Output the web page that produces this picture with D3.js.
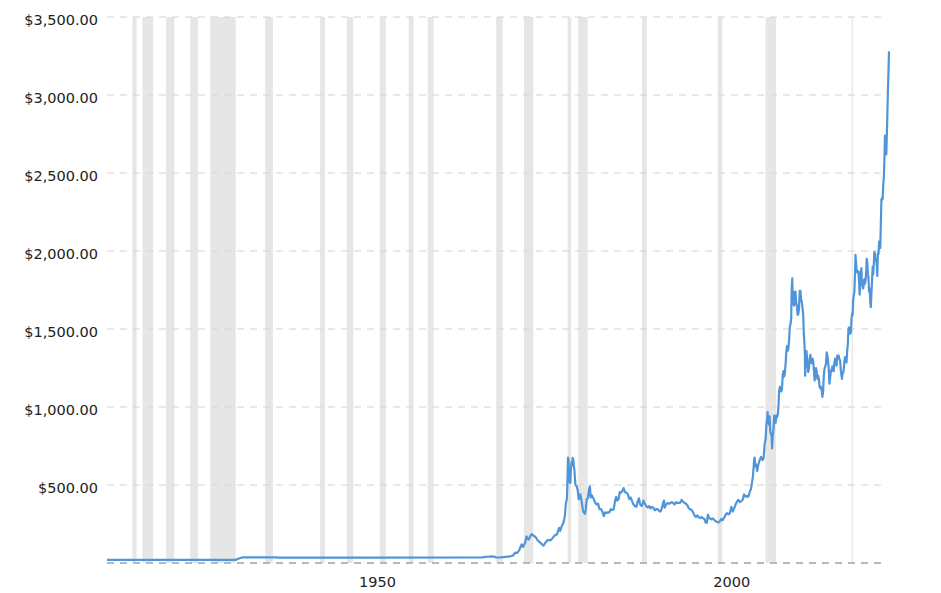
<!DOCTYPE html>
<html><head><meta charset="utf-8">
<script src="https://cdn.jsdelivr.net/npm/d3@7"></script>
<style>body{margin:0;background:#fff} svg{display:block} text{font-family:"DejaVu Sans",Verdana,sans-serif}</style>
</head><body><svg id="c" width="941" height="593"></svg>
<script>
// ---- data (decimal year, USD per ounce) ----
const goldEarly = [[1915.0,20.67],[1933.2,20.67],[1933.6,29],[1933.95,34],[1934.1,35.5],[1938.8,35.5],[1939.2,35],[1949.3,34.5],[1950.5,35],[1967.9,35.2]];
const gold1968_1979 = [[1968.3,39],[1968.8,40],[1969.2,43],[1969.6,41],[1969.9,35.2],[1970.5,35.5],[1971.0,38],[1971.5,40.5],[1971.9,43],[1972.3,48],[1972.6,66],[1972.9,64],[1973.2,85],[1973.5,120],[1973.7,103],[1974.0,130],[1974.2,170],[1974.5,150],[1974.9,185],[1975.2,175],[1975.5,165],[1975.8,143],[1976.1,132],[1976.6,111],[1976.9,133],[1977.2,148],[1977.6,145],[1977.9,161],[1978.2,178],[1978.5,184],[1978.8,225],[1978.95,205],[1979.2,240],[1979.4,257],[1979.6,296],[1979.75,380],[1979.9,415],[1979.97,510]];
const gold1980_1989 = [[1980.05,675],[1980.13,665],[1980.2,554],[1980.3,517],[1980.38,513],[1980.46,600],[1980.55,645],[1980.63,627],[1980.71,674],[1980.8,662],[1980.88,623],[1980.96,596],[1981.1,500],[1981.3,490],[1981.45,460],[1981.55,410],[1981.7,425],[1981.8,440],[1981.95,400],[1982.2,330],[1982.45,315],[1982.55,340],[1982.7,410],[1982.85,415],[1983.05,480],[1983.15,490],[1983.25,420],[1983.4,435],[1983.55,420],[1983.7,410],[1983.9,385],[1984.1,375],[1984.3,380],[1984.5,345],[1984.7,345],[1984.9,330],[1985.1,300],[1985.3,325],[1985.5,320],[1985.7,325],[1985.9,325],[1986.1,345],[1986.3,340],[1986.5,345],[1986.7,400],[1986.85,425],[1987.0,400],[1987.2,410],[1987.35,455],[1987.5,450],[1987.7,460],[1987.9,480],[1988.1,455],[1988.3,450],[1988.5,440],[1988.7,410],[1988.9,420],[1989.1,395],[1989.3,375],[1989.5,365],[1989.7,360],[1989.9,395]];
const gold1990_2004 = [[1990.05,415],[1990.25,375],[1990.45,365],[1990.6,380],[1990.7,400],[1990.9,380],[1991.1,365],[1991.3,357],[1991.5,365],[1991.7,350],[1991.9,360],[1992.1,355],[1992.3,338],[1992.5,345],[1992.7,345],[1992.9,335],[1993.1,330],[1993.3,350],[1993.5,390],[1993.6,400],[1993.7,355],[1993.9,375],[1994.1,385],[1994.3,380],[1994.5,385],[1994.7,390],[1994.9,385],[1995.1,375],[1995.3,390],[1995.5,385],[1995.7,385],[1995.9,387],[1996.1,405],[1996.3,392],[1996.5,385],[1996.7,380],[1996.9,370],[1997.1,350],[1997.3,345],[1997.5,340],[1997.7,325],[1997.9,305],[1998.1,295],[1998.3,305],[1998.5,292],[1998.7,288],[1998.9,295],[1999.1,287],[1999.3,282],[1999.5,258],[1999.65,258],[1999.8,310],[1999.95,290],[2000.1,285],[2000.3,280],[2000.5,285],[2000.7,275],[2000.9,268],[2001.1,263],[2001.3,260],[2001.5,268],[2001.7,283],[2001.9,275],[2002.1,292],[2002.3,310],[2002.5,320],[2002.7,312],[2002.9,320],[2003.1,360],[2003.3,330],[2003.5,350],[2003.7,375],[2003.9,395],[2004.1,405],[2004.3,390],[2004.5,395],[2004.7,405],[2004.9,440]];
const gold2005_2014 = [[2005.1,425],[2005.3,430],[2005.5,425],[2005.7,455],[2005.9,480],[2006.0,510],[2006.15,555],[2006.3,650],[2006.38,675],[2006.5,620],[2006.6,632],[2006.75,590],[2006.9,630],[2007.1,660],[2007.3,680],[2007.5,660],[2007.65,670],[2007.8,760],[2007.95,800],[2008.05,890],[2008.15,925],[2008.22,968],[2008.3,910],[2008.4,888],[2008.5,940],[2008.6,840],[2008.7,830],[2008.8,810],[2008.85,735],[2008.95,815],[2009.05,860],[2009.15,945],[2009.25,925],[2009.35,900],[2009.45,945],[2009.55,935],[2009.65,950],[2009.75,1000],[2009.85,1100],[2009.95,1130],[2010.05,1115],[2010.15,1100],[2010.25,1115],[2010.35,1200],[2010.45,1230],[2010.55,1195],[2010.65,1215],[2010.75,1270],[2010.85,1345],[2010.95,1390],[2011.05,1360],[2011.15,1375],[2011.25,1425],[2011.35,1510],[2011.45,1530],[2011.55,1570],[2011.62,1760],[2011.7,1825],[2011.78,1660],[2011.85,1740],[2011.95,1650],[2012.05,1660],[2012.15,1740],[2012.25,1670],[2012.35,1650],[2012.45,1590],[2012.55,1595],[2012.65,1630],[2012.75,1745],[2012.85,1745],[2012.95,1690],[2013.05,1670],[2013.15,1630],[2013.25,1590],[2013.32,1480],[2013.4,1415],[2013.48,1340],[2013.52,1200],[2013.6,1290],[2013.7,1360],[2013.78,1320],[2013.85,1280],[2013.95,1225],[2014.05,1245],[2014.15,1300],[2014.25,1335],[2014.35,1290],[2014.45,1280],[2014.55,1310],[2014.65,1295],[2014.75,1240],[2014.85,1170],[2014.95,1200]];
const gold2015_2019 = [[2015.05,1250],[2015.15,1225],[2015.25,1180],[2015.35,1200],[2015.45,1180],[2015.55,1130],[2015.65,1120],[2015.75,1130],[2015.85,1110],[2015.95,1065],[2016.05,1095],[2016.15,1200],[2016.25,1245],[2016.35,1260],[2016.45,1275],[2016.55,1350],[2016.65,1330],[2016.75,1300],[2016.85,1240],[2016.95,1150],[2017.05,1190],[2017.15,1235],[2017.25,1230],[2017.35,1260],[2017.45,1255],[2017.55,1230],[2017.65,1285],[2017.75,1310],[2017.85,1280],[2017.95,1265],[2018.05,1330],[2018.15,1330],[2018.25,1330],[2018.35,1305],[2018.45,1300],[2018.55,1235],[2018.65,1200],[2018.72,1180],[2018.8,1220],[2018.9,1220],[2018.98,1250],[2019.05,1290],[2019.15,1320],[2019.25,1295],[2019.35,1285],[2019.45,1360],[2019.55,1410],[2019.62,1500],[2019.7,1510],[2019.8,1495],[2019.9,1470],[2019.98,1480]];
const gold2020_2025 = [[2020.05,1560],[2020.15,1600],[2020.22,1590],[2020.3,1690],[2020.38,1715],[2020.46,1735],[2020.55,1850],[2020.62,1975],[2020.7,1930],[2020.78,1880],[2020.87,1865],[2020.95,1860],[2021.05,1870],[2021.12,1810],[2021.2,1720],[2021.28,1760],[2021.37,1850],[2021.45,1890],[2021.53,1780],[2021.62,1805],[2021.7,1760],[2021.78,1780],[2021.87,1820],[2021.95,1790],[2022.05,1815],[2022.13,1860],[2022.2,1950],[2022.28,1930],[2022.37,1850],[2022.45,1835],[2022.53,1740],[2022.62,1760],[2022.7,1680],[2022.78,1640],[2022.87,1730],[2022.95,1800],[2023.05,1900],[2023.12,1850],[2023.2,1910],[2023.28,1995],[2023.37,1980],[2023.45,1940],[2023.53,1950],[2023.62,1915],[2023.7,1840],[2023.78,1985],[2023.87,1980],[2023.95,2060],[2024.05,2030],[2024.12,2020],[2024.2,2180],[2024.28,2330],[2024.37,2340],[2024.45,2330],[2024.53,2420],[2024.62,2470],[2024.7,2580],[2024.78,2740],[2024.85,2620],[2024.92,2650],[2024.97,2620],[2025.05,2750],[2025.12,2880],[2025.2,3030],[2025.28,3150],[2025.35,3280]];

// NBER recessions (start, end) as decimal years
const recessionStarts = [1918.58,1920.0,1923.33,1926.75,1929.58,1937.33,1945.08,1948.83,1953.5,1957.58,1960.25,1969.92,1973.83,1980.0,1981.5,1990.5,2001.17,2007.92,2020.08];
const recessionEnds   = [1919.17,1921.5,1924.5,1927.83,1933.17,1938.42,1945.75,1949.75,1954.33,1958.25,1961.08,1970.83,1975.17,1980.5,1982.83,1991.17,2001.83,2009.42,2020.25];

const yTicks = [500,1000,1500,2000,2500,3000,3500];
const xTickYears = [1950,2000];

// ---- drawing ----
const goldSeries = [].concat(goldEarly, gold1968_1979, gold1980_1989, gold1990_2004, gold2005_2014, gold2015_2019, gold2020_2025);
const svg = d3.select("#c");
const plotLeft = 107, plotRight = 889, gridRight = 885, plotTop = 17, plotBottom = 563;

const x = d3.scaleLinear().domain([1915, 2025.35]).range([plotLeft, plotRight]);
const y = d3.scaleLinear().domain([0, 3500]).range([plotBottom, plotTop]);

// recession bands
svg.append("g").selectAll("rect")
  .data(recessionStarts.map((s, i) => [s, recessionEnds[i]]))
  .join("rect")
  .attr("x", d => x(d[0]))
  .attr("width", d => Math.max(1, x(d[1]) - x(d[0])))
  .attr("y", plotTop)
  .attr("height", plotBottom - plotTop)
  .attr("fill", "#e6e6e6");

// gridlines
svg.append("g").selectAll("line")
  .data(yTicks)
  .join("line")
  .attr("x1", plotLeft).attr("x2", gridRight)
  .attr("y1", d => y(d)).attr("y2", d => y(d))
  .attr("stroke", "#d8d8d8").attr("stroke-opacity", 0.8)
  .attr("stroke-width", 1.5)
  .attr("stroke-dasharray", "7,6");

// baseline
svg.append("line")
  .attr("x1", plotLeft).attr("x2", gridRight)
  .attr("y1", y(0)).attr("y2", y(0))
  .attr("stroke", "#b8b8b8").attr("stroke-width", 1.8)
  .attr("stroke-dasharray", "7,6");

// y axis labels
const yAxis = d3.axisLeft(y).tickValues(yTicks).tickSize(0).tickPadding(0).tickFormat(d3.format("$,.2f"));
const gy = svg.append("g").attr("transform", `translate(98,0)`).call(yAxis);
gy.select(".domain").remove();
gy.selectAll("text").attr("font-size", "14.5px").attr("fill", "#222")
  .attr("font-family", '"DejaVu Sans",Verdana,sans-serif').attr("dy", "0.55em").attr("x", 0);

// x axis labels
const xAxis = d3.axisBottom(x).tickValues(xTickYears).tickSize(0).tickPadding(0).tickFormat(d3.format("d"));
const gx = svg.append("g").attr("transform", `translate(0,${plotBottom})`).call(xAxis);
gx.select(".domain").remove();
gx.selectAll("text").attr("font-size", "14.5px").attr("fill", "#222")
  .attr("font-family", '"DejaVu Sans",Verdana,sans-serif')
  .attr("text-anchor", "start").attr("dx", 3.5).attr("y", 24).attr("dy", 0);

// price line
svg.append("path")
  .datum(goldSeries)
  .attr("fill", "none")
  .attr("stroke", "#5095d8")
  .attr("stroke-width", 2.2)
  .attr("stroke-linejoin", "round")
  .attr("d", d3.line().x(d => x(d[0])).y(d => y(d[1])));
</script></body></html>
